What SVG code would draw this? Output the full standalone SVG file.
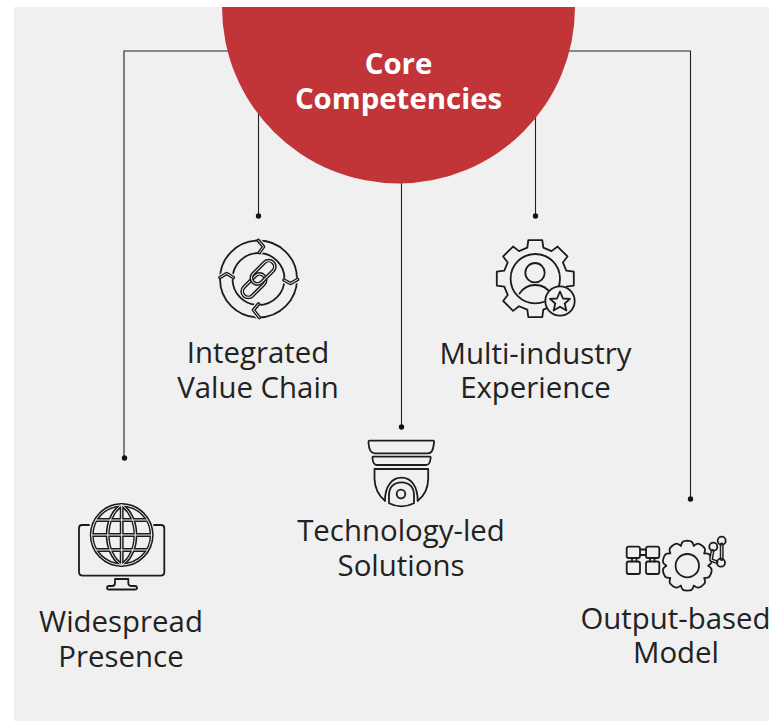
<svg xmlns="http://www.w3.org/2000/svg" width="769" height="721" viewBox="0 0 769 721">
<style>
text{font-family:"Open Sans","Noto Sans",sans-serif;font-size:29.400px;fill:#222;text-anchor:middle}
.title{font-weight:700;fill:#fff}
.conn{fill:none;stroke:#222;stroke-width:1.100}
.dot{fill:#111;stroke:none}
.ic{fill:none;stroke:#1c1c1c;stroke-width:1.800;stroke-linecap:round;stroke-linejoin:round}
.out{fill:none;stroke:#1c1c1c;stroke-width:3.900;stroke-linecap:round;stroke-linejoin:round}
.in{fill:none;stroke:#f0f0f0;stroke-width:1;stroke-linecap:round;stroke-linejoin:round}
</style>
<defs>
<path id="chainA" d="M-16,-4.500 H0 A6,6 0 0 1 0,7.500 H-16 A6,6 0 0 1 -16,-4.500 Z"/>
<path id="chainB" d="M0,-7.500 H16 A6,6 0 0 1 16,4.500 H0 A6,6 0 0 1 0,-7.500 Z"/>
<path id="zig" d="M258.300,240.500 L263.500,246.700 L259.300,252.500 M297.500,279.500 L290.500,283.500 L284,280 M259.300,317.500 L253.500,310 L258.500,304 M220,277.500 L226.700,273.500 L233.300,277.500"/>
<path id="grid" d="M121.700,505 V565 M121.700,505 C103,517 103,553 121.700,565 M121.700,505 C140,517 140,553 121.700,565 M96,520 H147 M92,535 H151.500 M96,550 H147"/>
<path id="tooth" d="M-6.500,-20 C-5,-24 -5,-24.700 0,-25 C5,-24.700 5,-24 6.500,-20"/>
<path id="flow" d="M640,549.500 H646 M640,555 H646 M632,558 V561.500 M636.500,558 V561.500 M650,558 V561.500 M654.500,558 V561.500"/>
<path id="nodes" d="M721.700,544.500 V559 M712.500,551 L711,560 L716.500,562"/>
</defs>
<rect x="14" y="7" width="755" height="714" fill="#f0f0f0"/>
<g id="connectors" class="conn">
<path d="M230,51 H124 V458"/>
<path d="M566,51 H690.500 V499"/>
<path d="M258.500,110 V216"/>
<path d="M535.500,110 V216"/>
<path d="M401.500,180 V427"/>
<circle class="dot" cx="124.500" cy="458" r="2.700"/>
<circle class="dot" cx="690.500" cy="499" r="2.700"/>
<circle class="dot" cx="258.500" cy="216" r="2.700"/>
<circle class="dot" cx="535.500" cy="216" r="2.700"/>
<circle class="dot" cx="401.500" cy="427" r="2.700"/>
</g>
<g id="core">
<path d="M222,7 H575 A176.500,176.500 0 0 1 222,7 Z" fill="#c13538"/>
<text class="title" x="398.500" y="74">Core</text>
<text class="title" x="398.500" y="108.500">Competencies</text>
</g>
<g id="integrated-value-chain">
<circle class="ic" cx="258.500" cy="279" r="38.500"/>
<circle class="ic" cx="258.500" cy="279" r="26"/>
<use href="#zig" stroke="#f0f0f0" stroke-width="6" fill="none"/>
<use href="#zig" class="out" style="stroke-width:3.600"/>
<use href="#zig" class="in"/>
<g transform="translate(258.500,279) rotate(-45)">
<use href="#chainA" class="out"/>
<use href="#chainA" class="in"/>
<use href="#chainB" class="out"/>
<use href="#chainB" class="in"/>
</g>
<text x="258" y="363">Integrated</text>
<text x="258" y="397.500">Value Chain</text>
</g>
<g id="multi-industry-experience">
<polygon class="ic" transform="translate(535.300,278.700)" points="-8,-31 -7,-38.500 7,-38.500 8,-31 16.260,-27.580 22.270,-32.170 32.170,-22.270 27.580,-16.260 31,-8 38.500,-7 38.500,7 31,8 27.580,16.260 32.170,22.270 22.270,32.170 16.260,27.580 8,31 7,38.500 -7,38.500 -8,31 -16.260,27.580 -22.270,32.170 -32.170,22.270 -27.580,16.260 -31,8 -38.500,7 -38.500,-7 -31,-8 -27.580,-16.260 -32.170,-22.270 -22.270,-32.170 -16.260,-27.580"/>
<circle class="ic" cx="535.300" cy="278.700" r="24.700"/>
<circle class="ic" cx="535" cy="272.700" r="9.700"/>
<path class="ic" d="M519.500,293.500 C524,287 530,285 535,285 C541,285 547,287 551,294"/>
<circle class="ic" cx="560" cy="301" r="14.700" style="fill:#f0f0f0"/>
<polygon class="ic" transform="translate(560,302)" points="0,-10.500 3,-3.500 10,-3.200 4.700,1.500 6.400,8.500 0,4.800 -6.400,8.500 -4.700,1.500 -10,-3.200 -3,-3.500"/>
<text x="535.500" y="363.500">Multi-industry</text>
<text x="535.500" y="397.500">Experience</text>
</g>
<g id="technology-led-solutions">
<path class="ic" d="M369.500,440.700 H433 Q434.500,440.700 434,443 C433,450 432,453.300 428,453.300 H374.500 C370.500,453.300 369,450 368.500,443 Q368.300,440.700 369.500,440.700 Z"/>
<path class="ic" d="M373,456.700 H430 Q431,456.700 430.500,459 C430,463 429,465 426,465 H377 C374,465 373,463 372.600,459 Q372.300,456.700 373,456.700 Z"/>
<path class="ic" d="M374.500,469 H428.200 V479 C428,489 424,496 417.700,500.700 M374.500,469 V479 C375,489 379,496 385,500.700"/>
<path class="ic" d="M385,500.700 C385,486 392,477.700 401.500,477.700 C411,477.700 417.700,486 417.700,500.700"/>
<path class="ic" d="M389,503.300 V495 C389,487 394,482.300 401.500,482.300 C409,482.300 414,487 414,495 V503.300 Q401.500,509.500 389,503.300 Z"/>
<circle class="ic" cx="401" cy="494" r="4.300"/>
<text x="401" y="540.500">Technology-led</text>
<text x="401" y="575.500">Solutions</text>
</g>
<g id="widespread-presence">
<path class="ic" d="M89,525 H82 Q79,525 79,528 V572 Q79,575.700 83,575.700 H160.500 Q164.300,575.700 164.300,572 V528 Q164.300,525 161,525 H154"/>
<path class="ic" d="M115,579 H128.300 V583 Q128.300,586 132,586 H135 Q137,586 137,588 Q137,589.500 135,589.500 H108.500 Q107,589.500 107,588 Q107,586 109,586 H112 Q115,586 115,583 Z"/>
<circle cx="121.700" cy="535" r="29.700" fill="#f0f0f0"/>
<circle class="out" cx="121.700" cy="535" r="30"/>
<use href="#grid" class="out"/>
<use href="#grid" class="in"/>
<circle class="in" cx="121.700" cy="535" r="30"/>
<text x="121" y="631.500">Widespread</text>
<text x="121" y="666.500">Presence</text>
</g>
<g id="output-based-model">
<g class="ic" transform="translate(687.300,565.700)">
<use href="#tooth"/><use href="#tooth" transform="rotate(36)"/><use href="#tooth" transform="rotate(72)"/><use href="#tooth" transform="rotate(108)"/><use href="#tooth" transform="rotate(144)"/><use href="#tooth" transform="rotate(180)"/><use href="#tooth" transform="rotate(216)"/><use href="#tooth" transform="rotate(252)"/><use href="#tooth" transform="rotate(288)"/><use href="#tooth" transform="rotate(324)"/>
<circle r="11.700"/>
</g>
<g class="ic">
<rect x="626.700" y="546.700" width="13.300" height="11.300" rx="2"/>
<rect x="646" y="546.700" width="13.300" height="11.300" rx="2"/>
<rect x="626.700" y="561.500" width="13.300" height="12.500" rx="2"/>
<rect x="646" y="561.500" width="13.300" height="12.500" rx="2"/>
<use href="#flow"/>
</g>
<use href="#nodes" class="out"/>
<use href="#nodes" class="in"/>
<g class="ic">
<circle cx="713.300" cy="546.700" r="4"/>
<circle cx="721.700" cy="540.700" r="4"/>
<circle cx="721" cy="562.700" r="4"/>
</g>
<text x="675.500" y="628.500">Output-based</text>
<text x="676" y="662.500">Model</text>
</g>
</svg>
